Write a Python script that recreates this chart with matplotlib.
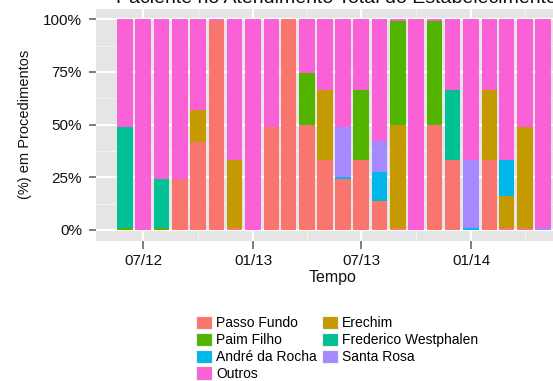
import datetime as dt
import matplotlib
matplotlib.use('agg')
import matplotlib.pyplot as plt
import matplotlib.dates as mdates
from matplotlib.patches import Patch

plt.rcParams['font.family'] = ['Liberation Sans', 'DejaVu Sans']

# one bar per month, Jun/2012 .. May/2014 (% of procedures)
months = ['2012-06', '2012-07', '2012-08', '2012-09', '2012-10', '2012-11',
          '2012-12', '2013-01', '2013-02', '2013-03', '2013-04', '2013-05',
          '2013-06', '2013-07', '2013-08', '2013-09', '2013-10', '2013-11',
          '2013-12', '2014-01', '2014-02', '2014-03', '2014-04', '2014-05']

passo_fundo = [0, 0, 0, 24, 42, 99, 1, 0, 49, 100, 50, 33,
               24, 33, 13.8, 1, 0, 50, 33, 0, 33, 0.7, 0.7, 0]
erechim = [0, 0, 0, 0, 15, 0, 32, 0, 0, 0, 0, 33.5,
           0, 0, 0, 49, 0, 0, 0, 0, 33.5, 15.6, 48.3, 0]
paim_filho = [1, 0, 1, 0, 0, 0, 0, 0, 0, 0, 24.4, 0,
              0, 33.5, 0, 49.4, 0, 49.4, 0, 0, 0, 0, 0, 0]
frederico_westphalen = [48, 0, 23, 0, 0, 0, 0, 0, 0, 0, 0, 0,
                        0, 0, 0.5, 0, 0, 0, 33.5, 0, 0, 0, 0, 0]
andre_da_rocha = [0, 0, 0, 0, 0, 0, 0, 0, 0, 0, 0, 0,
                  1, 0, 13.4, 0, 0, 0, 0, 1, 0, 16.7, 0, 0]
santa_rosa = [0, 0, 0, 0, 0, 0, 0, 0, 0, 0, 0, 0,
              24, 0, 14.5, 0, 0, 0, 0, 32, 0, 0, 0, 1]
outros = [51, 100, 76, 76, 43, 1, 67, 100, 51, 0, 25.6, 33.5,
          51, 33.5, 57.8, 0.6, 100, 0.6, 33.5, 67, 33.5, 67, 51, 99]

# stacking order, bottom to top
series = [('Passo Fundo', passo_fundo, '#F8766D'),
          ('Erechim', erechim, '#C49A00'),
          ('Paim Filho', paim_filho, '#53B400'),
          ('Frederico Westphalen', frederico_westphalen, '#00C094'),
          ('André da Rocha', andre_da_rocha, '#00B6EB'),
          ('Santa Rosa', santa_rosa, '#A58AFF'),
          ('Outros', outros, '#FB61D7')]

W, H = 553, 381
dates = [dt.date(int(m[:4]), int(m[5:]), 1) for m in months]
width = 26  # days

fig = plt.figure(figsize=(W / 100, H / 100), dpi=100)
left, right, top, bottom = 95.7, 572.3, 8.8, 240.5
ax = fig.add_axes([left / W, 1 - bottom / H, (right - left) / W,
                   (bottom - top) / H])
ax.set_facecolor('#E5E5E5')

base = [0.0] * len(dates)
for name, vals, col in series:
    v = [x / 100 for x in vals]
    ax.bar(dates, v, width=width, bottom=base, color=col, linewidth=0,
           align='center')
    base = [b + x for b, x in zip(base, v)]

# ggplot-like 5% expansion
x0 = mdates.date2num(dates[0]) - width / 2
x1 = mdates.date2num(dates[-1]) + width / 2
pad = 0.05 * (x1 - x0)
ax.set_xlim(x0 - pad, x1 + pad)
ax.set_ylim(-0.05, 1.05)

ax.set_yticks([0, 0.25, 0.5, 0.75, 1.0])
ax.set_yticklabels(['0%', '25%', '50%', '75%', '100%'])
ax.set_yticks([0.125, 0.375, 0.625, 0.875], minor=True)
ax.xaxis.set_major_locator(mdates.MonthLocator(bymonth=[1, 7]))
ax.xaxis.set_major_formatter(mdates.DateFormatter('%m/%y'))
ax.xaxis.set_minor_locator(mdates.MonthLocator(bymonth=[4, 10]))

ax.grid(which='major', color='white', linewidth=1.6)
ax.grid(which='minor', color='#F2F2F2', linewidth=0.8)
ax.set_axisbelow(True)
for s in ax.spines.values():
    s.set_visible(False)
ax.tick_params(which='major', length=5.4, width=1.1, color='#5A5A5A',
               labelsize=11, labelcolor='#111111', pad=4.5)
ax.tick_params(which='minor', length=0)

fig.text(25 / W, 1 - 124.6 / H, '(%) em Procedimentos', rotation=90,
         ha='center', va='center', fontsize=10.5, color='#111111')
fig.text(333 / W, 1 - 277.7 / H, 'Tempo', ha='center', va='center',
         fontsize=11.5, color='#111111')
# title is cut by the top edge, as in the reference
fig.text(116 / W, 1 - 3 / H,
         'Paciente no Atendimento Total do Estabelecimento',
         ha='left', va='baseline', fontsize=14, color='#111111')

# legend filled by row like ggplot: reorder for column-major layout
lookup = {name: col for name, _, col in series}
order = ['Passo Fundo', 'Paim Filho', 'André da Rocha', 'Outros',
         'Erechim', 'Frederico Westphalen', 'Santa Rosa']
handles = [Patch(facecolor=lookup[n], edgecolor='#F2F2F2', linewidth=0.8)
           for n in order]
fig.legend(handles, order, ncol=2, loc='upper left',
           bbox_to_anchor=(196 / W, 1 - 316 / H), frameon=False,
           borderpad=0, borderaxespad=0, fontsize=10,
           handlelength=1.13, handleheight=1.08, handletextpad=0.32,
           labelspacing=0.18, columnspacing=0.36)

fig.savefig('out.png', dpi=100)
